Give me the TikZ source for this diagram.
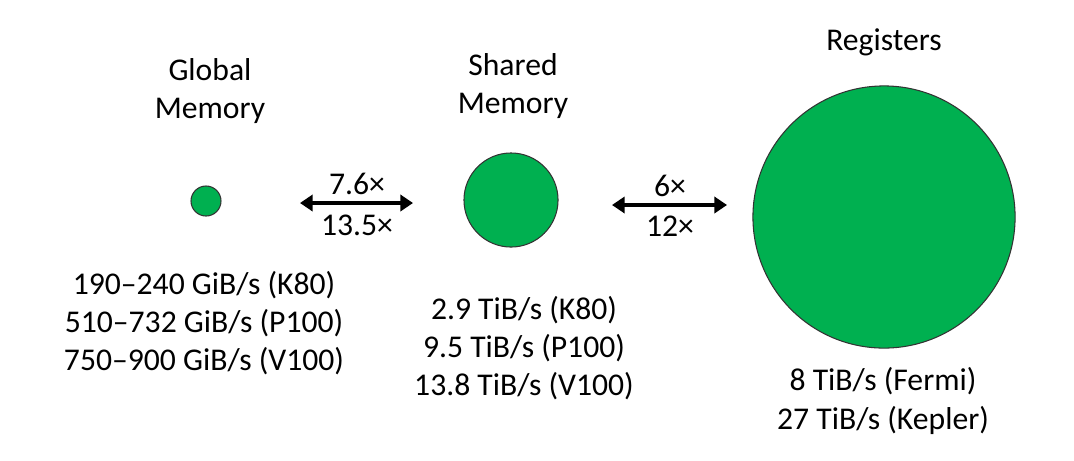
\documentclass[tikz,border=0pt]{standalone}
\usepackage{fontspec}
\setmainfont{Carlito}
\usetikzlibrary{arrows.meta}
\definecolor{memgreen}{HTML}{00B050}
\begin{document}
\begin{tikzpicture}[x=0.01cm,y=-0.01cm,
    mem/.style={circle, draw=black!80, line width=0.3pt, fill=memgreen, inner sep=0pt},
    lbl/.style={align=center, font=\fontsize{9}{10.9}\selectfont},
    bw/.style={{Triangle[length=3.6pt,width=4.6pt]}-{Triangle[length=3.6pt,width=4.6pt]}, line width=1.1pt}]
    \useasboundingbox (0,0) rectangle (1074,460);
    \node[mem, minimum size=0.30cm] (glob) at (206,201) {};
    \node[mem, minimum size=0.94cm] (shrd) at (511,200) {};
    \node[mem, minimum size=2.62cm] (regs) at (884,217) {};
    \node[lbl] (globname) at (210,91) {Global\\Memory};
    \node[lbl] (shrdname) at (513,86) {Shared\\Memory};
    \node[lbl] (regsname) at (884,42) {Registers};
    \coordinate (a1) at (300,203);
    \coordinate (a2) at (413,203);
    \coordinate (b1) at (612,205);
    \coordinate (b2) at (727,205);
    \draw[bw] (a1) -- (a2);
    \draw[bw] (b1) -- (b2);
    \node[lbl] (gsup) at (357,184) {7.6×};
    \node[lbl] (gsub) at (357,225) {13.5×};
    \node[lbl] (ssup) at (670,186) {6×};
    \node[lbl] (ssub) at (670,226) {12×};
    \node[lbl] (globbw) at (204,323) {190–240 GiB/s (K80)\\510–732 GiB/s (P100)\\750–900 GiB/s (V100)};
    \node[lbl] (shrdbw) at (524,348) {2.9 TiB/s (K80)\\9.5 TiB/s (P100)\\13.8 TiB/s (V100)};
    \node[lbl] (regsbw) at (883,401) {8 TiB/s (Fermi)\\27 TiB/s (Kepler)};
\end{tikzpicture}
\end{document}
